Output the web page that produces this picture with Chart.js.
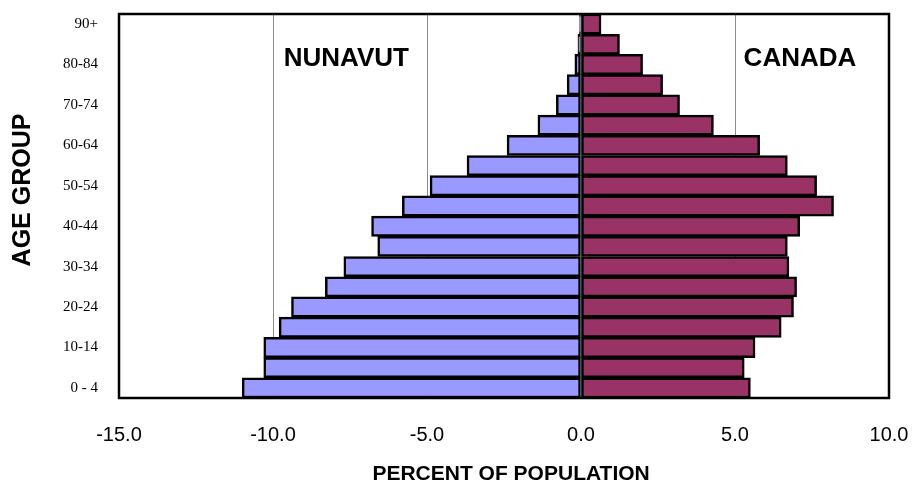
<!DOCTYPE html>
<html>
<head>
<meta charset="utf-8">
<script src="https://cdn.jsdelivr.net/npm/chart.js@4/dist/chart.umd.min.js"></script>
<style>
  html, body { margin: 0; padding: 0; background: #ffffff; }
  #wrap { width: 912px; height: 483px; }
</style>
</head>
<body>
<div id="wrap"><canvas id="c" width="912" height="483"></canvas></div>
<script>
// Age groups, youngest first (drawn bottom to top)
const ageGroups = ['0 - 4', '5-9', '10-14', '15-19', '20-24', '25-29', '30-34', '35-39', '40-44',
  '45-49', '50-54', '55-59', '60-64', '65-69', '70-74', '75-79', '80-84', '85-89', '90+'];

// Percent of population (Nunavut drawn to the left as negatives)
const nunavut = [-11.0, -10.3, -10.3, -9.8, -9.4, -8.3, -7.7, -6.6, -6.8, -5.8,
  -4.9, -3.7, -2.4, -1.4, -0.8, -0.45, -0.2, -0.1, -0.05];
const canada = [5.5, 5.3, 5.65, 6.5, 6.9, 7.0, 6.75, 6.7, 7.1, 8.2,
  7.65, 6.7, 5.8, 4.3, 3.2, 2.65, 2.0, 1.25, 0.65];

const xTicks = [-15, -10, -5, 0, 5, 10];
const leftLabel = 'NUNAVUT';
const rightLabel = 'CANADA';
const xTitle = 'PERCENT OF POPULATION';
const yTitle = 'AGE GROUP';

const frameAndLabels = {
  id: 'frameAndLabels',
  afterDatasetsDraw(chart) {
    const { ctx, chartArea: a, scales } = chart;
    ctx.save();
    ctx.strokeStyle = '#000000';
    ctx.lineWidth = 2.5;
    ctx.strokeRect(a.left, a.top, a.right - a.left, a.bottom - a.top);
    ctx.fillStyle = '#000000';
    ctx.font = 'bold 26px "Liberation Sans", Arial, sans-serif';
    ctx.textAlign = 'left';
    ctx.textBaseline = 'alphabetic';
    ctx.fillText(leftLabel, scales.x.getPixelForValue(-9.65), a.top + 52);
    ctx.fillText(rightLabel, scales.x.getPixelForValue(5.28), a.top + 52);

    // axis titles
    ctx.textAlign = 'center';
    ctx.textBaseline = 'middle';
    ctx.font = 'bold 21px "Liberation Sans", Arial, sans-serif';
    ctx.fillText(xTitle, scales.x.getPixelForValue(-2.27), a.bottom + 76);
    ctx.translate(23, a.top + 176);
    ctx.rotate(-Math.PI / 2);
    ctx.font = 'bold 25px "Liberation Sans", Arial, sans-serif';
    ctx.fillText(yTitle, 0, 0);
    ctx.restore();
  }
};

new Chart(document.getElementById('c'), {
  type: 'bar',
  data: {
    labels: ageGroups,
    datasets: [
      {
        label: leftLabel,
        data: nunavut,
        backgroundColor: '#9999FF',
        borderColor: '#000000',
        borderWidth: 2.5,
        borderSkipped: false
      },
      {
        label: rightLabel,
        data: canada,
        backgroundColor: '#993366',
        borderColor: '#000000',
        borderWidth: 2.5,
        borderSkipped: false
      }
    ]
  },
  options: {
    indexAxis: 'y',
    responsive: false,
    animation: false,
    layout: { padding: { top: 14, right: 23, left: 0, bottom: 0 } },
    plugins: {
      legend: { display: false },
      tooltip: { enabled: false }
    },
    datasets: { bar: { barPercentage: 1, categoryPercentage: 1 } },
    scales: {
      x: {
        type: 'linear',
        stacked: true,
        min: -15,
        max: 10,
        afterBuildTicks(scale) { scale.ticks = xTicks.map(v => ({ value: v })); },
        afterFit(scale) {
          scale.height = 85;
          scale.paddingLeft = 0;
          scale.paddingRight = 0;
        },
        ticks: {
          callback: v => Number(v).toFixed(1),
          color: '#000000',
          padding: 25,
          maxRotation: 0,
          font: { family: '"Liberation Sans", Arial, sans-serif', size: 20 }
        },
        grid: { color: '#8c8c8c', lineWidth: 1, drawTicks: false },
        border: { display: false },
        title: { display: false, text: xTitle }
      },
      y: {
        type: 'category',
        stacked: true,
        reverse: true,
        afterFit(scale) {
          scale.width = 119;
          scale.paddingTop = 0;
          scale.paddingBottom = 0;
        },
        ticks: {
          autoSkip: false,
          color: '#000000',
          padding: 21,
          callback(value, index) { return index % 2 === 0 ? this.getLabelForValue(value) : ''; },
          font: { family: '"Liberation Serif", "Times New Roman", serif', size: 15 }
        },
        grid: { display: false, drawTicks: false },
        border: { display: false },
        title: { display: false, text: yTitle }
      }
    }
  },
  plugins: [frameAndLabels]
});
</script>
</body>
</html>
